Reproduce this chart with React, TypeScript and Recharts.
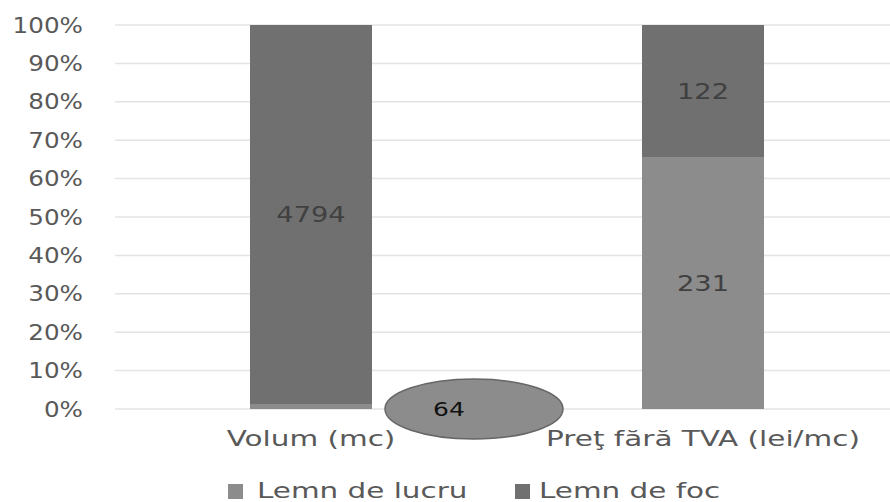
import React from 'react';
import { BarChart, Bar, XAxis, YAxis, CartesianGrid, Legend, LabelList } from 'recharts';

const categories = ['Volum (mc)', 'Preţ fără TVA (lei/mc)'];
const lemnDeLucru = [64, 231];
const lemnDeFoc = [4794, 122];
const seriesNames = ['Lemn de lucru', 'Lemn de foc'];
const seriesColors = ['#8c8c8c', '#707070'];
const yTicks = [0, 0.1, 0.2, 0.3, 0.4, 0.5, 0.6, 0.7, 0.8, 0.9, 1];

const data = categories.map((c, i) => ({ name: c, lucru: lemnDeLucru[i], foc: lemnDeFoc[i] }));

const FONT = '"DejaVu Sans", sans-serif';
const pct = (v: number) => `${Math.round(v * 100)}%`;

const YTick = (props: any) => {
  const { x, y, payload } = props;
  return (
    <g transform={`translate(${x},${y}) scale(1.12,1)`}>
      <text x={0} y={0} textAnchor="end" dominantBaseline="central" fill="#595959" fontSize={22} fontFamily={FONT}>
        {pct(payload.value)}
      </text>
    </g>
  );
};

const XTick = (props: any) => {
  const { x, y, payload } = props;
  return (
    <g transform={`translate(${x},${y + 27}) scale(1.34,1)`}>
      <text x={0} y={0} textAnchor="middle" dominantBaseline="central" fill="#595959" fontSize={22} fontFamily={FONT}>
        {payload.value}
      </text>
    </g>
  );
};

const boxOf = (p: any) => {
  const vb = p.viewBox && p.viewBox.width !== undefined ? p.viewBox : p;
  return { x: Number(vb.x), y: Number(vb.y), width: Number(vb.width), height: Number(vb.height) };
};

const CenterLabel = (values: number[], skip: number[]) => (props: any) => {
  const { index } = props;
  if (skip.includes(index)) return null;
  const { x, y, width, height } = boxOf(props);
  const cx = x + width / 2;
  const cy = y + height / 2;
  return (
    <g transform={`translate(${cx},${cy}) scale(1.3,1)`}>
      <text x={0} y={0} textAnchor="middle" dominantBaseline="central" fill="#404040" fontSize={21} fontFamily={FONT}>
        {values[index]}
      </text>
    </g>
  );
};

const LucruLabel = (props: any) => {
  const { index } = props;
  const { x, y, width, height } = boxOf(props);
  if (index === 0) {
    const ex = x + width + 102;
    const ey = y + height;
    return (
      <g>
        <ellipse cx={ex} cy={ey} rx={89} ry={30} fill="#8c8c8c" stroke="#666666" strokeWidth={1.5} />
        <g transform={`translate(${ex - 25},${ey}) scale(1.25,1)`}>
          <text x={0} y={0} textAnchor="middle" dominantBaseline="central" fill="#111111" fontSize={20} fontFamily={FONT}>
            {lemnDeLucru[index]}
          </text>
        </g>
      </g>
    );
  }
  return CenterLabel(lemnDeLucru, [])(props);
};

const renderLegend = () => (
  <div style={{ position: 'relative', height: 22, width: 890, fontFamily: FONT, fontSize: 21, color: '#595959' }}>
    {seriesNames.map((n, i) => (
      <div key={n} style={{ position: 'absolute', left: i === 0 ? 228 : 515, top: 0, height: 22, display: 'flex', alignItems: 'center' }}>
        <div style={{ width: 15, height: 15, background: seriesColors[i], marginRight: i === 0 ? 14 : 9 }} />
        <span style={{ display: 'inline-block', transform: 'scaleX(1.4)', transformOrigin: 'left center', whiteSpace: 'nowrap', lineHeight: '22px' }}>{n}</span>
      </div>
    ))}
  </div>
);

export default function App() {
  return (
    <div style={{ position: 'absolute', left: 0, top: 0, width: 890, height: 502, overflow: 'hidden', background: '#fff' }}>
      <BarChart
        width={890}
        height={502}
        data={data}
        stackOffset="expand"
        margin={{ top: 25, right: -9, bottom: 0, left: 0 }}
      >
        <CartesianGrid vertical={false} stroke="#e4e4e4" strokeWidth={1.5} />
        <XAxis dataKey="name" axisLine={false} tickLine={false} tickSize={0} height={71} tick={<XTick />} interval={0} />
        <YAxis
          type="number"
          domain={[0, 1]}
          ticks={yTicks}
          axisLine={false}
          tickLine={false}
          tickSize={0}
          tickMargin={32}
          width={115}
          tick={<YTick />}
          interval={0}
        />
        <Legend verticalAlign="bottom" align="left" height={22} content={renderLegend} wrapperStyle={{ left: 0, width: 890 }} />
        <Bar dataKey="lucru" name={seriesNames[0]} stackId="a" fill={seriesColors[0]} barSize={122} isAnimationActive={false}>
          <LabelList dataKey="lucru" content={LucruLabel} />
        </Bar>
        <Bar dataKey="foc" name={seriesNames[1]} stackId="a" fill={seriesColors[1]} barSize={122} isAnimationActive={false}>
          <LabelList dataKey="foc" content={CenterLabel(lemnDeFoc, [])} />
        </Bar>
      </BarChart>
    </div>
  );
}
